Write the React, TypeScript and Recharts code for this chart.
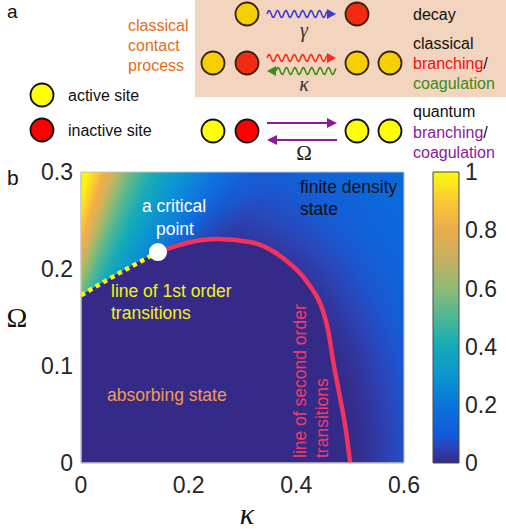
import React from 'react'
import {
  ComposedChart,
  Area,
  Line,
  Scatter,
  XAxis,
  YAxis,
  ReferenceArea,
  BarChart,
  Bar,
} from 'recharts'

// phase boundaries: k = kappa, w = Omega
const firstOrderLine = [
  { k: 0, w: 0.173 },
  { k: 0.07, w: 0.1955 },
  { k: 0.143, w: 0.2175 },
]
const secondOrderLine = [
  { k: 0.143, w: 0.2175 },
  { k: 0.165, w: 0.2216 },
  { k: 0.2025, w: 0.2276 },
  { k: 0.253, w: 0.2309 },
  { k: 0.314, w: 0.2278 },
  { k: 0.375, w: 0.2113 },
  { k: 0.42, w: 0.1866 },
  { k: 0.45, w: 0.1557 },
  { k: 0.459, w: 0.137 },
  { k: 0.469, w: 0.103 },
  { k: 0.481, w: 0.068 },
  { k: 0.492, w: 0.034 },
  { k: 0.5, w: 0 },
]
const absorbingRegion = [...firstOrderLine.slice(0, 2), ...secondOrderLine]
const criticalPoint = [{ k: 0.143, w: 0.2175 }]

const kappaTicks = [0, 0.2, 0.4, 0.6]
const omegaTicks = [0, 0.1, 0.2, 0.3]
const densityTicks = [0, 0.2, 0.4, 0.6, 0.8, 1]
const colorbar = [{ name: 'density', v: 1 }]

const FONT = '"Liberation Sans", Arial, sans-serif'
const SERIF = '"Liberation Serif", "DejaVu Serif", serif'
const TICK = { fontSize: 23, fill: '#262626', fontFamily: FONT }

const K_MAX = 0.6
const W_MAX = 0.3
const pctX = (k: number) => (k / K_MAX) * 100
const pctY = (w: number) => (1 - w / W_MAX) * 100

// density field behind the phase boundary (styling only)
const fan = { k: -0.15, w: -0.038 }
const fieldBackground = [
  `conic-gradient(from 0deg at ${pctX(fan.k)}% ${pctY(fan.w)}%, #f9fb0e 0deg, #f9f510 15deg, #fcc832 16.5deg, #f5ae45 17.5deg, #cfb25c 19deg, #93ba72 20.5deg, #4fb793 22.5deg, #19acb4 25deg, #0b9bcc 28deg, #0d85d8 31deg, #0f6fe0 34deg, rgba(15,100,221,0.6) 37deg, rgba(15,92,221,0) 41deg, rgba(0,0,0,0) 360deg)`,
  `radial-gradient(${pctX(0.29)}% ${(0.231 / W_MAX) * 100}% at ${pctX(0.25)}% 100%, #352a87 0%, #352a87 86%, #343093 95%, #3039a5 104%, #2947ba 114%, #1d55cc 125%, #1260d8 138%, #0c68db 160%, #0a6adb 200%)`,
].join(', ')

const parula = [
  [0, '#352a87'],
  [0.05, '#2c3fb6'],
  [0.1, '#0f5cdd'],
  [0.2, '#0a74da'],
  [0.3, '#0a96d0'],
  [0.4, '#13abb8'],
  [0.5, '#4cb795'],
  [0.6, '#8fbb74'],
  [0.7, '#c5b060'],
  [0.8, '#eaab4b'],
  [0.9, '#fcc834'],
  [1, '#f9fb0e'],
] as const

function FieldShape(props: any) {
  const { x, y, width, height } = props
  return (
    <foreignObject x={x} y={y} width={width} height={height}>
      <div style={{ width: '100%', height: '100%', background: fieldBackground }} />
    </foreignObject>
  )
}

function WhiteDot(props: any) {
  return <circle cx={props.cx} cy={props.cy} r={9} fill="#ffffff" />
}

function wavePath(x1: number, x2: number, y: number) {
  const amp = 3.4
  const period = 8.4
  let d = `M${x1},${y}`
  for (let x = x1; x <= x2; x += 0.5) {
    d += ` L${x.toFixed(1)},${(y - amp * Math.sin(((x - x1) / period) * 2 * Math.PI)).toFixed(2)}`
  }
  return d
}

function WavyArrow({ x1, x2, y, color, left }: { x1: number; x2: number; y: number; color: string; left?: boolean }) {
  const h = 9
  if (left) {
    return (
      <g>
        <path d={wavePath(x1 + h, x2, y)} stroke={color} fill="none" strokeWidth={1.6} />
        <polygon points={`${x1 + h},${y - 5} ${x1},${y} ${x1 + h},${y + 5}`} fill={color} />
      </g>
    )
  }
  return (
    <g>
      <path d={wavePath(x1, x2 - h, y)} stroke={color} fill="none" strokeWidth={1.6} />
      <polygon points={`${x2 - h},${y - 5} ${x2},${y} ${x2 - h},${y + 5}`} fill={color} />
    </g>
  )
}

function StraightArrow({ x1, x2, y, color, left }: { x1: number; x2: number; y: number; color: string; left?: boolean }) {
  const h = 10
  return (
    <g>
      <line x1={left ? x1 + h : x1} x2={left ? x2 : x2 - h} y1={y} y2={y} stroke={color} strokeWidth={2} />
      {left ? (
        <polygon points={`${x1 + h},${y - 5} ${x1},${y} ${x1 + h},${y + 5}`} fill={color} />
      ) : (
        <polygon points={`${x2 - h},${y - 5} ${x2},${y} ${x2 - h},${y + 5}`} fill={color} />
      )}
    </g>
  )
}

function Site({ x, y, fill, classical }: { x: number; y: number; fill: string; classical?: boolean }) {
  return <circle cx={x} cy={y} r={11.5} fill={fill} stroke={classical ? '#3a200c' : '#111111'} strokeWidth={1.8} />
}

const GOLD = '#f4d000'
const CRED = '#f22a0f'
const YEL = '#ffff00'
const RED = '#ff0000'
const PURPLE = '#8b1a9b'

function Overlay() {
  const t = { fontFamily: FONT, dominantBaseline: 'central' as const }
  return (
    <svg width={506} height={531} style={{ position: 'absolute', left: 0, top: 0, pointerEvents: 'none' }}>
      {/* panel a */}
      <rect x={195} y={0} width={311} height={97} fill="#f3d4bf" />
      <text x={7} y={18} fontSize={19} fontFamily={FONT} fill="#111">a</text>
      <g {...t} fontSize={16} fill="#e46c1c">
        <text x={128} y={25}>classical</text>
        <text x={128} y={45}>contact</text>
        <text x={128} y={65}>process</text>
      </g>
      <Site x={247} y={14} fill={GOLD} classical />
      <WavyArrow x1={267} x2={336} y={14} color="#3b3bdb" />
      <Site x={357} y={14} fill={CRED} classical />
      <text x={304} y={30} fontSize={20} fontStyle="italic" fontFamily={SERIF} fill="#333" textAnchor="middle" dominantBaseline="central">γ</text>

      <Site x={213} y={63} fill={GOLD} classical />
      <Site x={247} y={63} fill={CRED} classical />
      <WavyArrow x1={267} x2={336} y={58} color="#ff2a1a" />
      <WavyArrow x1={267} x2={336} y={71} color="#3b8a1a" left />
      <Site x={357} y={63} fill={GOLD} classical />
      <Site x={390} y={63} fill={GOLD} classical />
      <text x={304} y={84} fontSize={20} fontStyle="italic" fontFamily={SERIF} fill="#333" textAnchor="middle" dominantBaseline="central">κ</text>

      <Site x={42} y={95} fill={YEL} />
      <Site x={42} y={130} fill={RED} />
      <g {...t} fontSize={16} fill="#111">
        <text x={68} y={95}>active site</text>
        <text x={68} y={130}>inactive site</text>
      </g>

      <Site x={213} y={131} fill={YEL} />
      <Site x={247} y={131} fill={RED} />
      <StraightArrow x1={267} x2={337} y={123} color={PURPLE} />
      <StraightArrow x1={267} x2={337} y={140} color={PURPLE} left />
      <Site x={357} y={131} fill={YEL} />
      <Site x={390} y={131} fill={YEL} />
      <text x={304} y={153} fontSize={21} fontFamily={SERIF} fill="#222" textAnchor="middle" dominantBaseline="central">Ω</text>

      <g {...t} fontSize={16} fill="#111">
        <text x={413} y={14}>decay</text>
        <text x={413} y={43}>classical</text>
        <text x={413} y={63}><tspan fill="#f01010">branching</tspan>/</text>
        <text x={413} y={83} fill="#3a8a1a">coagulation</text>
        <text x={413} y={111}>quantum</text>
        <text x={413} y={132}><tspan fill={PURPLE}>branching</tspan>/</text>
        <text x={413} y={152} fill={PURPLE}>coagulation</text>
      </g>

      {/* panel b */}
      <text x={7} y={185} fontSize={21} fontFamily={FONT} fill="#111">b</text>
      <text x={17} y={317} fontSize={28} fontFamily={SERIF} fill="#111" textAnchor="middle" dominantBaseline="central">Ω</text>
      <text x={247} y={513} fontSize={30} fontStyle="italic" fontFamily={SERIF} fill="#111" textAnchor="middle" dominantBaseline="central">κ</text>

      <g {...t} fontSize={17.5}>
        <text x={300} y={187} fill="#111">finite density</text>
        <text x={300} y={209} fill="#111">state</text>
        <text x={174} y={206} fill="#ffffff" textAnchor="middle">a critical</text>
        <text x={175} y={229} fill="#ffffff" textAnchor="middle">point</text>
        <text x={111} y={291} fill="#f4f40a">line of 1st order</text>
        <text x={111} y={313} fill="#f4f40a">transitions</text>
        <text x={107} y={395} fill="#f29a52">absorbing state</text>
        <text x={300} y={458} fill="#f53a6a" transform="rotate(-90 300 458)">line of second order</text>
        <text x={322} y={458} fill="#f53a6a" transform="rotate(-90 322 458)">transitions</text>
      </g>
    </svg>
  )
}

export default function App() {
  return (
    <div style={{ position: 'absolute', left: 0, top: 0, width: 506, height: 531, background: '#fff', fontFamily: FONT }}>
      <div style={{ position: 'absolute', left: 0, top: 0 }}>
        <ComposedChart width={506} height={531} margin={{ top: 172, right: 102, bottom: 38, left: 21 }}>
          <XAxis
            type="number"
            dataKey="k"
            domain={[0, K_MAX]}
            ticks={kappaTicks}
            allowDataOverflow
            interval={0}
            height={30}
            tickSize={0}
            tickMargin={14}
            tickLine={false}
            axisLine={{ stroke: '#c4c4c4' }}
            tick={TICK}
          />
          <YAxis
            type="number"
            dataKey="w"
            domain={[0, W_MAX]}
            ticks={omegaTicks}
            allowDataOverflow
            interval={0}
            width={60}
            tickSize={0}
            tickMargin={8}
            tickLine={false}
            axisLine={{ stroke: '#c4c4c4' }}
            tick={TICK}
          />
          <ReferenceArea x1={0} x2={K_MAX} y1={0} y2={W_MAX} shape={FieldShape} />
          <Area
            data={absorbingRegion}
            dataKey="w"
            type="monotone"
            fill="#352a87"
            fillOpacity={1}
            stroke="none"
            baseValue={0}
            isAnimationActive={false}
          />
          <Line
            data={firstOrderLine}
            dataKey="w"
            type="linear"
            stroke="#ffff00"
            strokeWidth={4.5}
            strokeDasharray="4.5 4"
            dot={false}
            isAnimationActive={false}
          />
          <Line
            data={secondOrderLine}
            dataKey="w"
            type="monotone"
            stroke="#f2335e"
            strokeWidth={4.5}
            dot={false}
            isAnimationActive={false}
          />
          <Scatter data={criticalPoint} dataKey="w" shape={WhiteDot} isAnimationActive={false} />
          <ReferenceArea x1={0} x2={K_MAX} y1={0} y2={W_MAX} fill="none" stroke="#c4c4c4" />
        </ComposedChart>
      </div>
      <div style={{ position: 'absolute', left: 420, top: 0 }}>
        <BarChart
          width={86}
          height={531}
          data={colorbar}
          margin={{ top: 172, right: 0, bottom: 68, left: 13 }}
          barCategoryGap={0}
        >
          <defs>
            <linearGradient id="cbar" x1="0" y1="1" x2="0" y2="0">
              {parula.map(([o, c]) => (
                <stop key={o} offset={`${o * 100}%`} stopColor={c} />
              ))}
            </linearGradient>
          </defs>
          <XAxis dataKey="name" hide />
          <YAxis
            orientation="right"
            domain={[0, 1]}
            ticks={densityTicks}
            interval={0}
            width={47}
            tickSize={0}
            tickMargin={6}
            tickLine={false}
            axisLine={false}
            tick={TICK}
          />
          <Bar dataKey="v" fill="url(#cbar)" stroke="#4a4a4a" strokeWidth={1} isAnimationActive={false} />
        </BarChart>
      </div>
      <Overlay />
    </div>
  )
}
